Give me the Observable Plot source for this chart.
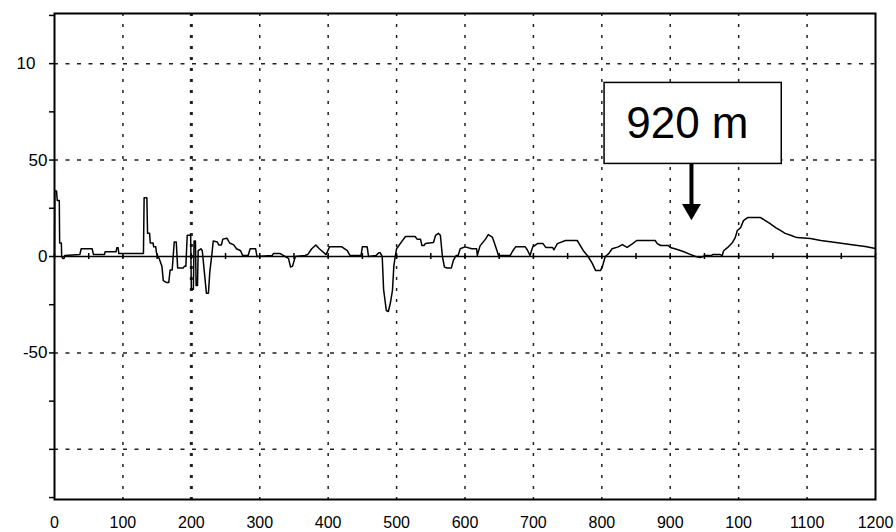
<!DOCTYPE html>
<html><head><meta charset="utf-8">
<script src="https://cdn.jsdelivr.net/npm/d3@7"></script>
<script src="https://cdn.jsdelivr.net/npm/@observablehq/plot@0.6"></script>
<style>body{margin:0;background:#fff} svg{display:block}</style>
</head><body><div id="chart"></div>
<script>
// Trace: distance (m) and level
const dist = [0,0.5,3,4,7,7.5,10,10.5,12,14,15,37,39,55,57,73,74,90,91,93,94,130,131,135,136,139,140,144,145,148,149,151,153,157,159,164,167,169,172,175,178,180,188,190,192,194,199,200,203,204,206,207,209,210,214,216,219,222,225,227,230,232,238,240,244,246,252,256,262,266,272,275,283,286,294,296,318,320,330,335,342,345,348,352,366,370,376,382,387,397,402,420,428,432,448,450,457,459,470,474,476,479,481,485,488,491,494,496,498,500,508,513,527,530,535,537,540,542,548,554,557,561,564,567,570,574,580,583,587,590,593,600,610,617,618,622,630,634,640,644,649,666,670,674,688,691,695,699,706,714,718,728,730,735,747,764,773,780,786,791,798,801,805,810,815,824,830,837,845,851,878,881,886,897,900,908,919,930,937,944,952,960,962,973,976,978,984,991,995,998,1003,1007,1013,1032,1039,1046,1054,1061,1068,1076,1085,1105,1120,1142,1163,1185,1200];
const level = [0,34,34,29,29,7,7,0,-1,-1,0.5,1,4,4,1,1,2.5,2.5,4.5,4.5,1.5,1.5,30.5,30.5,12,12,7,7,5,5,2,0,-1,-5,-12.5,-13.5,-13.5,-7,-7,7.5,7.5,-6,-6,-5,-5,11,11,-17,-17,8,8,-15,-15,3,4,3,-8,-19,-19,-8,1,8,7.5,6,6,9,9.5,7,6,4,3,0.5,0.5,4,4,0,0.5,1.5,1.5,0.5,-1,-5.5,-5,0,0.5,1,4,6,4,1,5,5,3,0.5,0.5,5,5,0,0.5,2,2,0,-17,-28,-28.5,-24,-17.5,-5,0,4,8,10.4,10.4,9,9,5.7,5.7,6.7,7,7.3,11,12,11,0,-5.5,-6,-6,-2,0.5,0.5,4,5,4,4,0.5,5.5,9,11.4,10,6,0.5,0.5,3,5,5,3.5,0.5,5,6.7,6.7,4.7,4.7,3.5,6.7,8.3,8.3,3,0,-3.6,-7.3,-7.3,-5,0,1.5,4,5,6.2,4.7,6.7,8.3,8.3,6.7,5.7,5.7,4.7,3.9,2.6,1,0,-0.5,0.5,0.5,1,1,0.5,3,4.7,7.3,9.8,13.5,15,18.6,20.2,20.2,18.6,17,15,13.5,12,11,9.8,9.3,8.3,7.3,6.2,5.2,4.1];

// Axes and grid
const xTickValues = [0,100,200,300,400,500,600,700,800,900,1000,1100,1200];
const xTickLabels = ["0","100","200","300","400","500","600","700","800","900","100","1100","1200"];
const xGrid = [100,200,300,400,500,600,700,800,900,1000,1100];
const heavyGrid = [200];
const yGrid = [100,50,-50,-100];
const yTicks = [-125,-100,-75,-50,-25,0,25,50,75,100,125];
const yLabelValues = [100,50,0,-50];
const yLabelTexts = ["10","50","0","-50"];
const zeroTicks = [0,50,100,150,200,250,300,350,400,450,500,550,600,650,700,750,800,850,900,950,1000,1050,1100,1150,1200];

// Annotation
const annotText = ["920 m"];
const annotBoxX = [804, 1063];
const annotBoxY = [48, 90];
const annotTextPos = [925, 69];
const arrowX = [931];
const arrowShaftY = [48, 26];
const arrowHeadY = [24.4];

const trace = dist.map((d, i) => ({dist: d, level: level[i]}));
const xLabelMap = new Map(xTickValues.map((v, i) => [v, xTickLabels[i]]));
const yLab = yLabelValues.map((v, i) => ({v, t: yLabelTexts[i]}));

const chart = Plot.plot({
  width: 896, height: 532,
  marginLeft: 54, marginRight: 21, marginTop: 13, marginBottom: 33,
  style: {fontFamily: "'Liberation Sans', Arial, sans-serif", fontSize: "17px", background: "#fff", color: "#000"},
  x: {domain: [0, 1200], label: null},
  y: {domain: [-126, 126], label: null},
  marks: [
    Plot.ruleX(xGrid, {stroke: "#222", strokeWidth: 1.5, strokeDasharray: "3,8"}),
    Plot.ruleX(heavyGrid, {stroke: "#222", strokeWidth: 3, strokeDasharray: "3,8"}),
    Plot.ruleY(yGrid, {stroke: "#222", strokeWidth: 1.5, strokeDasharray: "4,7.5"}),
    Plot.ruleY([0], {stroke: "#000", strokeWidth: 1.5}),
    Plot.ruleX(zeroTicks, {x: d => d, y1: 0, y2: 0, insetTop: -3, insetBottom: -3, stroke: "#000", strokeWidth: 1.5}),
    Plot.line(trace, {x: "dist", y: "level", stroke: "#000", strokeWidth: 1.5}),
    Plot.frame({stroke: "#000", strokeWidth: 2}),
    Plot.axisY({ticks: yTicks, tickSize: 5, tickFormat: () => "", strokeWidth: 1.5, label: null}),
    Plot.text(yLab.slice(1), {y: "v", text: "t", frameAnchor: "left", textAnchor: "end", dx: -7, fontSize: 17}),
    Plot.text(yLab.slice(0, 1), {y: "v", text: "t", frameAnchor: "left", textAnchor: "end", dx: -19, fontSize: 17}),
    Plot.axisX({ticks: xTickValues, tickSize: 0, tickPadding: 17, tickFormat: d => xLabelMap.get(d), fontSize: 16, label: null}),
    Plot.rect([0], {x1: () => annotBoxX[0], x2: () => annotBoxX[1], y1: () => annotBoxY[0], y2: () => annotBoxY[1], fill: "#fff", stroke: "#000", strokeWidth: 1.5}),
    Plot.text(annotText, {x: () => annotTextPos[0], y: () => annotTextPos[1], text: d => d, fontSize: 44}),
    Plot.ruleX(arrowX, {x: d => d, y1: () => arrowShaftY[0], y2: () => arrowShaftY[1], stroke: "#000", strokeWidth: 4}),
    Plot.dot(arrowX, {x: d => d, y: () => arrowHeadY[0], symbol: "triangle", r: 7, rotate: 180, fill: "#000", stroke: "none"})
  ]
});
document.getElementById("chart").appendChild(chart);
</script>
</body></html>
